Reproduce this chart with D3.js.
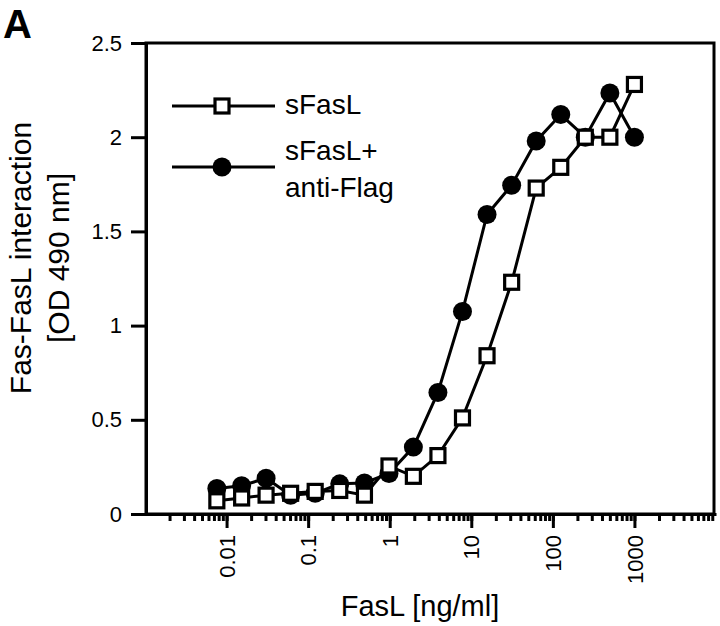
<!DOCTYPE html>
<html>
<head>
<meta charset="utf-8">
<script src="https://cdn.jsdelivr.net/npm/d3@7"></script>
<style>
  body { margin: 0; background: #fff; }
  text { font-family: "Liberation Sans", Arial, Helvetica, sans-serif; fill: #000; }
</style>
</head>
<body>
<div id="container"></div>
<script>
const WIDTH = 720,
      HEIGHT = 626;

const margin = { top: 43, bottom: 112, left: 146, right: 6 };

// FasL concentration [ng/ml], 2-fold dilutions
const concentrations = [0.0076, 0.0153, 0.0305, 0.061, 0.122, 0.244, 0.49, 0.98, 1.95,
                        3.9, 7.8, 15.6, 31.25, 62.5, 125, 250, 500, 1000];
// OD 490 nm
const sFasL = [0.07, 0.085, 0.10, 0.11, 0.12, 0.125, 0.10, 0.255, 0.20,
               0.31, 0.51, 0.84, 1.23, 1.73, 1.84, 2.0, 2.0, 2.28];
const sFasLAntiFlag = [0.135, 0.15, 0.19, 0.10, 0.11, 0.16, 0.165, 0.215, 0.355,
                       0.645, 1.075, 1.59, 1.745, 1.98, 2.12, 2.0, 2.235, 2.0];

const xLabels = [0.01, 0.1, 1, 10, 100, 1000];
const yTicks = [0, 0.5, 1, 1.5, 2, 2.5];

const width = WIDTH - margin.left - margin.right,
      height = HEIGHT - margin.top - margin.bottom;

const svg = d3.select('#container').append('svg')
    .attr("width", WIDTH).attr("height", HEIGHT);

const container = svg.append('g')
    .attr("transform", `translate(${margin.left}, ${margin.top})`);

const xScale = d3.scaleLog().domain([0.001, 10000]).range([-1, width + 2]);
const yScale = d3.scaleLinear().domain([0, 2.5]).range([height, 0]);

// frame
container.append("rect")
    .attr("x", 0).attr("y", 0)
    .attr("width", width).attr("height", height)
    .attr("fill", "none").attr("stroke", "#000").attr("stroke-width", 3);

// minor x ticks
const minor = xScale.ticks().filter(d => d > 0.0011 && d < 9500);
container.append("g")
    .attr("transform", `translate(0, ${height})`)
    .call(d3.axisBottom(xScale).tickValues(minor).tickSize(7).tickSizeOuter(0).tickFormat(""))
    .call(g => g.select(".domain").remove())
    .selectAll("line").attr("stroke-width", 3);

// major x ticks
const xAxis = container.append("g")
    .attr("transform", `translate(0, ${height})`)
    .call(d3.axisBottom(xScale).tickValues(xLabels).tickSize(14).tickSizeOuter(0)
            .tickFormat(d => d.toString()));
xAxis.select(".domain").attr("stroke-width", 3);
xAxis.selectAll("line").attr("stroke-width", 3);
xAxis.selectAll("text")
    .attr("transform", "rotate(-90)")
    .attr("text-anchor", "end")
    .attr("x", -21).attr("y", 0).attr("dy", "0.35em")
    .style("font-size", "22px");

// y axis
const yAxis = container.append("g")
    .call(d3.axisLeft(yScale).tickValues(yTicks).tickSize(15).tickPadding(9).tickSizeOuter(0)
            .tickFormat(d => d.toString()));
yAxis.select(".domain").attr("stroke-width", 3);
yAxis.selectAll("line").attr("stroke-width", 3);
yAxis.selectAll("text").style("font-size", "22px");

// titles
svg.append("text")
    .attr("x", 420).attr("y", 616)
    .style("text-anchor", "middle").style("font-size", "29px")
    .text("FasL [ng/ml]");

const yTitle = svg.append("text")
    .attr("transform", "translate(31, 258) rotate(-90)")
    .style("text-anchor", "middle").style("font-size", "30px");
yTitle.append("tspan").attr("x", 0).attr("y", 0).text("Fas-FasL interaction");
yTitle.append("tspan").attr("x", 0).attr("y", 38).text("[OD 490 nm]");

svg.append("text")
    .attr("x", 3).attr("y", 38)
    .style("font-size", "40px").style("font-weight", "bold")
    .text("A");

// series
const line = d3.line()
    .x(d => xScale(d[0]))
    .y(d => yScale(d[1]));

const circleData = concentrations.map((c, i) => [c, sFasLAntiFlag[i]]);
const squareData = concentrations.map((c, i) => [c, sFasL[i]]);

container.append("path").datum(circleData)
    .attr("d", line).attr("fill", "none").attr("stroke", "#000").attr("stroke-width", 3);
container.append("path").datum(squareData)
    .attr("d", line).attr("fill", "none").attr("stroke", "#000").attr("stroke-width", 3);

container.selectAll("circle.pt")
    .data(circleData)
    .join("circle")
    .attr("class", "pt")
    .attr("cx", d => xScale(d[0]))
    .attr("cy", d => yScale(d[1]))
    .attr("r", 9.5)
    .attr("fill", "#000");

const sq = 14;
container.selectAll("rect.pt")
    .data(squareData)
    .join("rect")
    .attr("class", "pt")
    .attr("x", d => xScale(d[0]) - sq / 2)
    .attr("y", d => yScale(d[1]) - sq / 2)
    .attr("width", sq).attr("height", sq)
    .attr("fill", "#fff").attr("stroke", "#000").attr("stroke-width", 3.2);

// legend
const legend = svg.append("g");
legend.append("line").attr("x1", 172).attr("x2", 275).attr("y1", 106).attr("y2", 106)
    .attr("stroke", "#000").attr("stroke-width", 3);
legend.append("rect").attr("x", 222 - sq / 2).attr("y", 106 - sq / 2)
    .attr("width", sq).attr("height", sq)
    .attr("fill", "#fff").attr("stroke", "#000").attr("stroke-width", 3.2);
legend.append("text").attr("x", 285).attr("y", 114).style("font-size", "28px").text("sFasL");

legend.append("line").attr("x1", 172).attr("x2", 275).attr("y1", 167).attr("y2", 167)
    .attr("stroke", "#000").attr("stroke-width", 3);
legend.append("circle").attr("cx", 222).attr("cy", 167).attr("r", 9.5).attr("fill", "#000");
legend.append("text").attr("x", 285).attr("y", 160).style("font-size", "28px").text("sFasL+");
legend.append("text").attr("x", 285).attr("y", 197).style("font-size", "28px").text("anti-Flag");
</script>
</body>
</html>
